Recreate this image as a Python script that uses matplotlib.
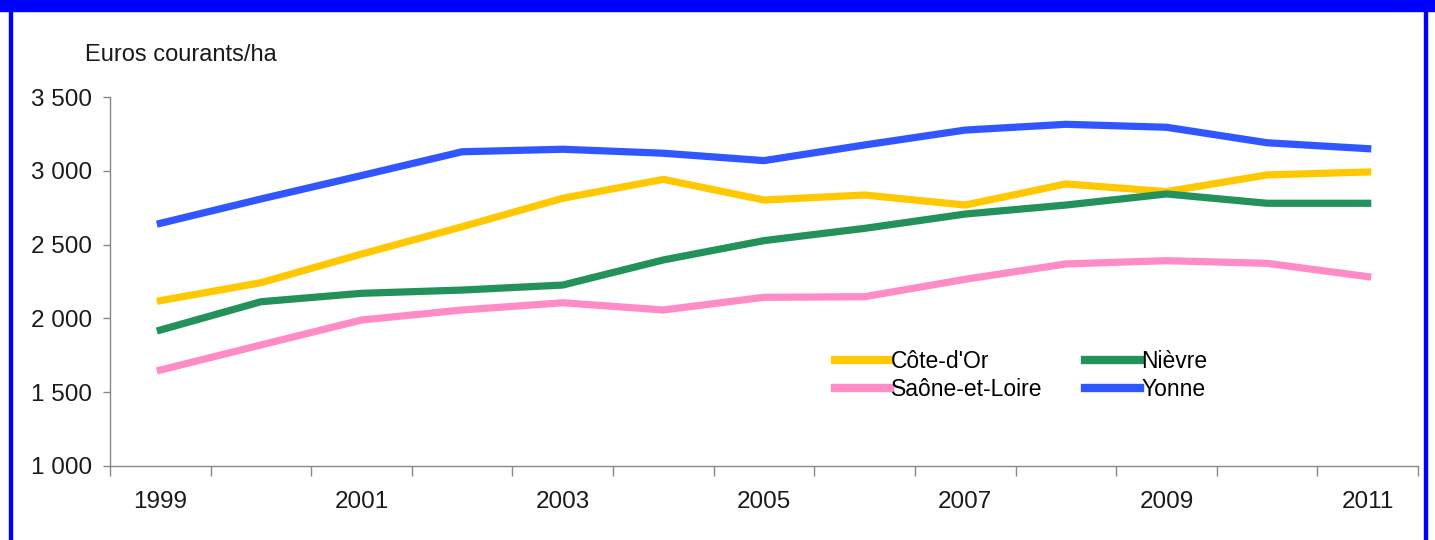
import numpy as np
import matplotlib.pyplot as plt
from matplotlib.patches import Rectangle
from matplotlib.ticker import FuncFormatter

# --- data ---
years = list(range(1999, 2012))
cote_dor = [2120, 2242, 2436, 2621, 2814, 2942, 2802, 2836, 2768, 2911, 2859, 2972, 2992]
nievre = [1921, 2113, 2170, 2192, 2226, 2396, 2527, 2610, 2707, 2768, 2843, 2780, 2780]
saone = [1650, 1820, 1989, 2057, 2106, 2057, 2143, 2147, 2265, 2369, 2391, 2373, 2283]
yonne = [2644, 2809, 2968, 3129, 3146, 3119, 3069, 3175, 3276, 3315, 3295, 3190, 3150]
yticks = [1000, 1500, 2000, 2500, 3000, 3500]

plt.rcParams['font.family'] = ['Liberation Sans', 'DejaVu Sans']

fig = plt.figure(figsize=(14.35, 5.4), dpi=100)
ax = fig.add_axes([110 / 1435, 74 / 540, 1308 / 1435, 369 / 540])

x = np.arange(len(years))
lw = 5.2
l1, = ax.plot(x, cote_dor, color='#FFC800', lw=lw, label="Côte-d'Or")
l2, = ax.plot(x, saone, color='#FF8CC6', lw=lw, label='Saône-et-Loire')
l3, = ax.plot(x, nievre, color='#23915A', lw=lw, label='Nièvre')
l4, = ax.plot(x, yonne, color='#3057FF', lw=lw, label='Yonne')

ax.set_xlim(-0.5, len(years) - 0.5)
ax.set_ylim(1000, 3500)

ax.set_yticks(yticks)
ax.yaxis.set_major_formatter(FuncFormatter(lambda v, p: f'{int(v):,}'.replace(',', ' ')))
ax.tick_params(axis='y', length=5, width=1, color='#888888', pad=8,
               labelsize=17.5, labelcolor='#1a1a1a')

ax.set_xticks(x[::2])
ax.set_xticklabels([str(y) for y in years[::2]])
ax.set_xticks(np.arange(-0.5, len(years), 1), minor=True)
ax.tick_params(axis='x', which='major', length=0, pad=18, labelsize=17.5, labelcolor='#1a1a1a')
ax.tick_params(axis='x', which='minor', length=7, width=1, color='#888888')

for s in ['top', 'right']:
    ax.spines[s].set_visible(False)
for s in ['left', 'bottom']:
    ax.spines[s].set_color('#888888')
    ax.spines[s].set_linewidth(1)

fig.text(85 / 1435, 1 - 55 / 540, 'Euros courants/ha', fontsize=17,
         color='#1a1a1a', va='center', ha='left')

leg = ax.legend(handles=[l1, l2, l3, l4], ncol=2, loc='upper left',
                bbox_to_anchor=(835 / 1435, 1 - 350 / 540), bbox_transform=fig.transFigure,
                frameon=False, fontsize=16.5, handlelength=2.4, handletextpad=0.05,
                columnspacing=1.85, labelspacing=0.2, borderpad=0, borderaxespad=0)
for h in leg.get_lines():
    h.set_linewidth(6)

# blue frame
fig.patches.append(Rectangle((0, 1 - 11 / 540), 1, 11 / 540, transform=fig.transFigure,
                             color='#0000FF', zorder=10))
fig.patches.append(Rectangle((9 / 1435, 0), 2.5 / 1435, 1, transform=fig.transFigure,
                             color='#0000FF', zorder=10))
fig.patches.append(Rectangle((1424 / 1435, 0), 2.5 / 1435, 1, transform=fig.transFigure,
                             color='#0000FF', zorder=10))

fig.savefig('out.png', dpi=100)
